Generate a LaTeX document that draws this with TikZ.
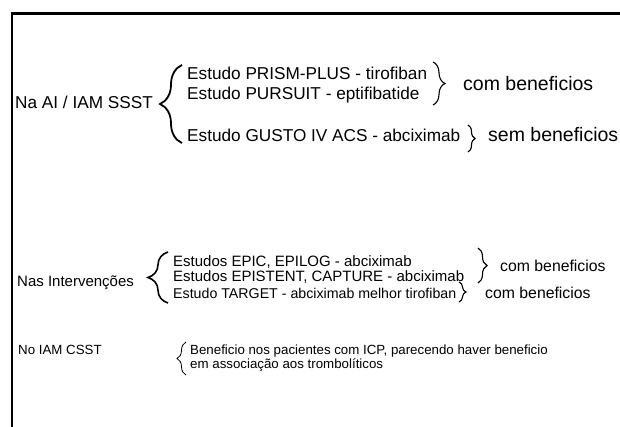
\documentclass[tikz,border=0pt]{standalone}
\usepackage{fontspec}
\setmainfont{Liberation Sans}
\usetikzlibrary{positioning,decorations.pathreplacing}

\begin{document}
\begin{tikzpicture}[x=1pt,y=1pt,
                head node/.style={anchor=base west,inner sep=0pt},
                big node/.style={head node,font=\fontsize{17.2}{20}\selectfont},
                mid node/.style={head node,font=\fontsize{15}{16}\selectfont},
                small node/.style={head node,font=\fontsize{13.3}{14}\selectfont},
                result node/.style={head node,font=\fontsize{19.5}{22}\selectfont},
                result small/.style={head node,font=\fontsize{15.8}{18}\selectfont},
                brace line/.style={decorate,decoration={brace,amplitude=#1},line width=1.1pt},
                brace line/.default=10]
  \useasboundingbox (0,0) rectangle (620,-427);
  \draw[line width=2.5pt] (620,-13.5) -- (12,-13.5) -- (12,-427);

  \node[big node] (naai) at (15,-109) {Na AI / IAM SSST};
  \node[big node] (prism) at (187,-80) {Estudo PRISM-PLUS - tirofiban};
  \node[big node] (pursuit) [below=20pt of prism.base west,anchor=base west] {Estudo PURSUIT - eptifibatide};
  \node[big node] (gusto) at (187,-142) {Estudo GUSTO IV ACS - abciximab};
  \node[result node] (comA) at (463,-91) {com beneficios};
  \node[result node] (semA) at (488,-142) {sem beneficios};

  \node[mid node] (inter) at (17,-286) {Nas Intervenções};
  \node[mid node] (epic) at (173,-266) {Estudos EPIC, EPILOG - abciximab};
  \node[mid node] (epistent) [below=15pt of epic.base west,anchor=base west] {Estudos EPISTENT, CAPTURE - abciximab};
  \node[mid node,font=\fontsize{14.2}{16}\selectfont] (target) at (173,-298) {Estudo TARGET - abciximab melhor tirofiban};
  \node[result small] (comB) at (500,-271) {com beneficios};
  \node[result small] (comC) at (485,-298) {com beneficios};

  \node[small node] (csst) at (18,-354) {No IAM CSST};
  \node[small node] (icp) at (190,-354) {Beneficio nos pacientes com ICP, parecendo haver beneficio};
  \node[small node] (tromb) [below=14pt of icp.base west,anchor=base west] {em associação aos trombolíticos};

  \path
    ([xshift=-5pt,yshift=-1pt]gusto.base west) edge [brace line=22,line width=1.8pt] ([xshift=-5pt,yshift=15pt]prism.base west)
    ([xshift=-30pt,yshift=29pt]comA.base west) edge [brace line=12] ([xshift=-30pt,yshift=-14pt]comA.base west)
    ([xshift=-20pt,yshift=17pt]semA.base west) edge [brace line=7] ([xshift=-20pt,yshift=-10pt]semA.base west)
    ([xshift=-5pt,yshift=-5pt]target.base west) edge [brace line=20,line width=1.6pt] ([xshift=-5pt,yshift=14pt]epic.base west)
    ([xshift=-22pt,yshift=23pt]comB.base west) edge [brace line=9] ([xshift=-22pt,yshift=-12pt]comB.base west)
    ([xshift=-26pt,yshift=16pt]comC.base west) edge [brace line=7] ([xshift=-26pt,yshift=-4pt]comC.base west)
    ([xshift=-4pt,yshift=-7pt]tromb.base west) edge [brace line=9,line width=0.8pt] ([xshift=-4pt,yshift=12pt]icp.base west)
  ;
\end{tikzpicture}
\end{document}
